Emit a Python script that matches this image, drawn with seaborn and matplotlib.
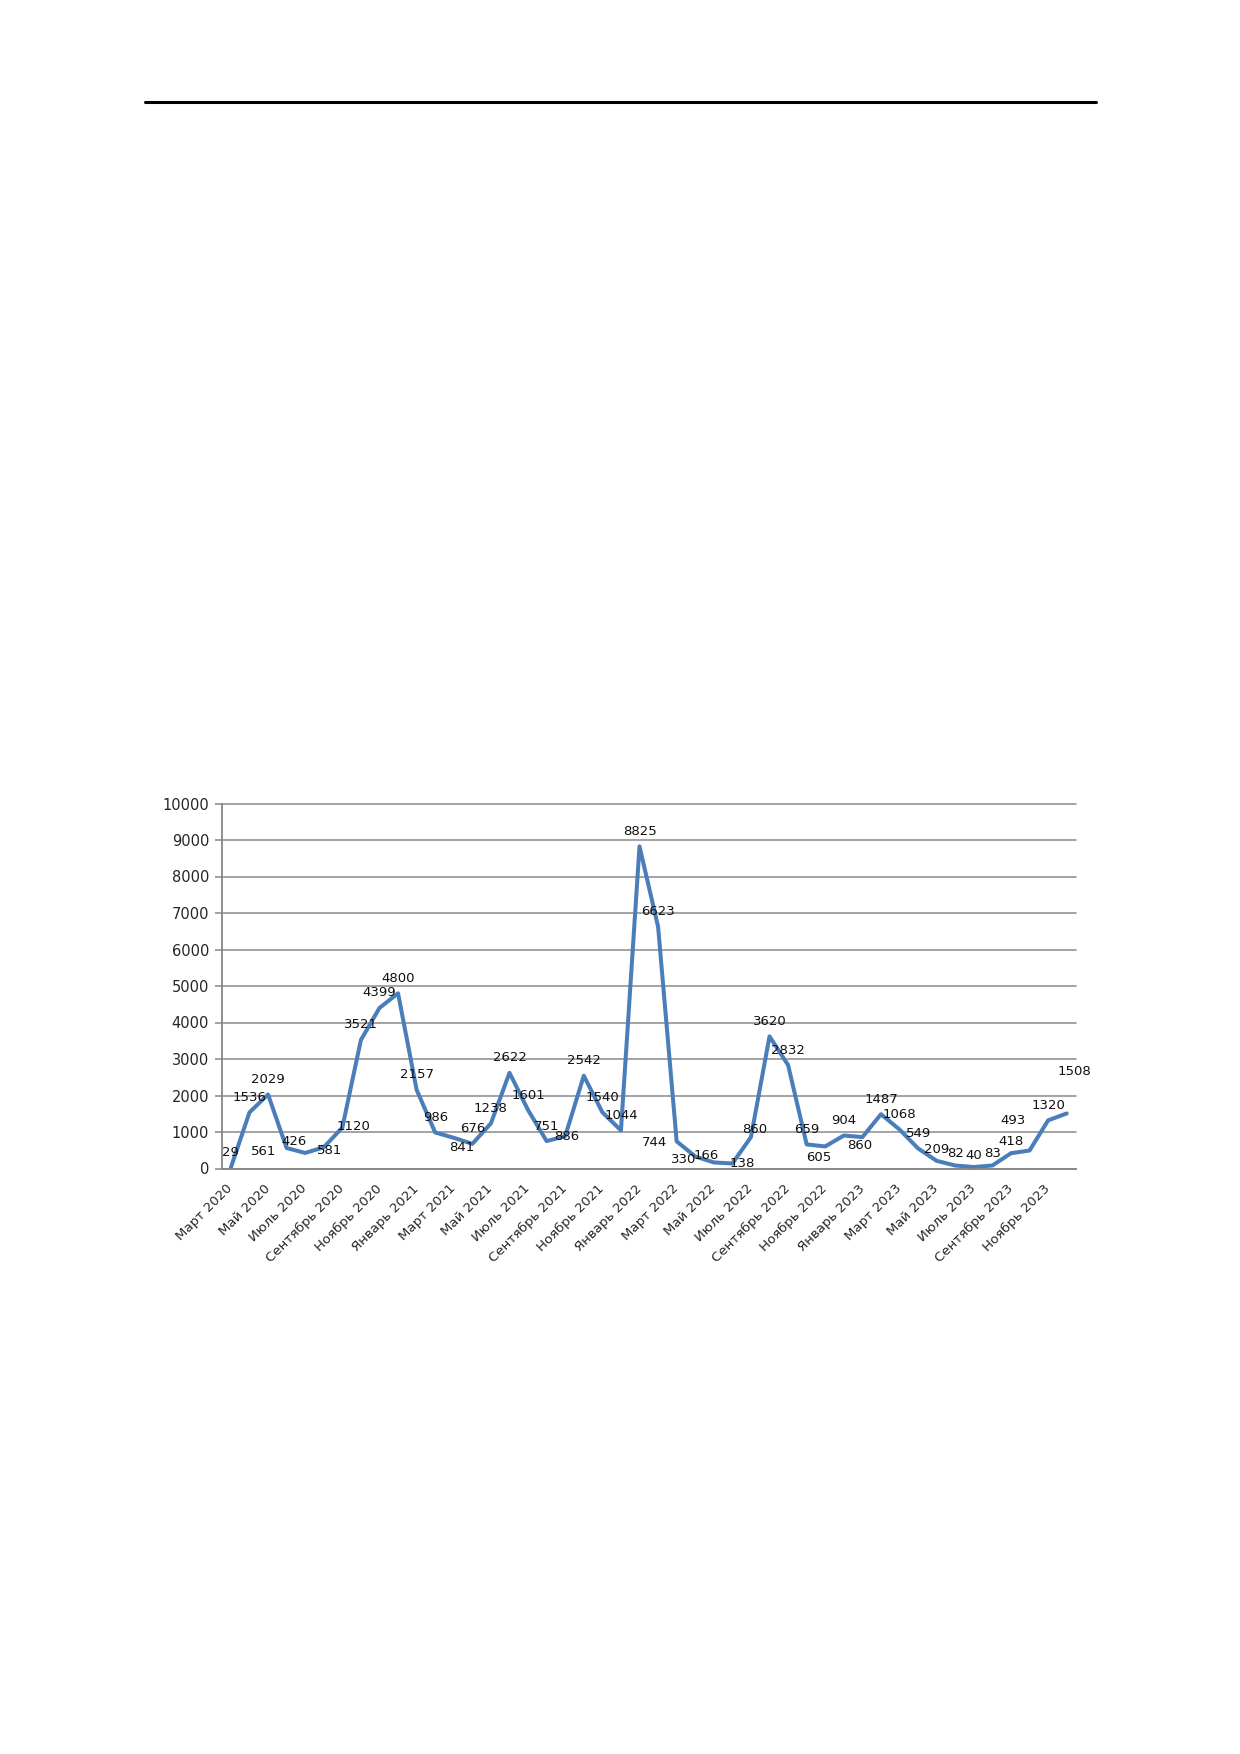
import matplotlib
matplotlib.use('Agg')
import numpy as np
import pandas as pd
import seaborn as sns
import matplotlib.pyplot as plt
from matplotlib.lines import Line2D
from matplotlib.ticker import MultipleLocator

# monthly values, March 2020 .. December 2023
months = [
    'Март 2020', 'Апрель 2020', 'Май 2020', 'Июнь 2020', 'Июль 2020', 'Август 2020',
    'Сентябрь 2020', 'Октябрь 2020', 'Ноябрь 2020', 'Декабрь 2020',
    'Январь 2021', 'Февраль 2021', 'Март 2021', 'Апрель 2021', 'Май 2021', 'Июнь 2021',
    'Июль 2021', 'Август 2021', 'Сентябрь 2021', 'Октябрь 2021', 'Ноябрь 2021', 'Декабрь 2021',
    'Январь 2022', 'Февраль 2022', 'Март 2022', 'Апрель 2022', 'Май 2022', 'Июнь 2022',
    'Июль 2022', 'Август 2022', 'Сентябрь 2022', 'Октябрь 2022', 'Ноябрь 2022', 'Декабрь 2022',
    'Январь 2023', 'Февраль 2023', 'Март 2023', 'Апрель 2023', 'Май 2023', 'Июнь 2023',
    'Июль 2023', 'Август 2023', 'Сентябрь 2023', 'Октябрь 2023', 'Ноябрь 2023', 'Декабрь 2023',
]
values = [
    29, 1536, 2029, 561, 426, 581, 1120, 3521, 4399, 4800,
    2157, 986, 841, 676, 1238, 2622, 1601, 751, 886, 2542, 1540, 1044,
    8825, 6623, 744, 330, 166, 138, 860, 3620, 2832, 659, 605, 904,
    860, 1487, 1068, 549, 209, 82, 40, 83, 418, 493, 1320, 1508,
]
tick_labels = [
    'Март 2020', 'Май 2020', 'Июль 2020', 'Сентябрь 2020', 'Ноябрь 2020',
    'Январь 2021', 'Март 2021', 'Май 2021', 'Июль 2021', 'Сентябрь 2021', 'Ноябрь 2021',
    'Январь 2022', 'Март 2022', 'Май 2022', 'Июль 2022', 'Сентябрь 2022', 'Ноябрь 2022',
    'Январь 2023', 'Март 2023', 'Май 2023', 'Июль 2023', 'Сентябрь 2023', 'Ноябрь 2023',
]

# label placement (pixels from the point); default is just above
default_offset = (0, 15)
label_offsets = {
    3: (-23, -3), 4: (-11, 11), 5: (6, -3), 6: (11, 1), 12: (8, -10),
    18: (1, 0), 24: (-22, -1), 25: (-12, -3), 26: (-8, 7), 27: (10, 0),
    28: (4, 8), 32: (-7, -11), 34: (-3, -8), 38: (0, 11), 39: (0, 12),
    40: (0, 12), 41: (0, 12), 42: (0, 12), 43: (-17, 30), 45: (8, 42),
}

sns.set_style('white')
plt.rcParams['font.family'] = ['DejaVu Sans']

df = pd.DataFrame({'month': months, 'value': values})
df['pos'] = np.arange(len(df))

fig = plt.figure(figsize=(12.4, 17.54), dpi=100)
ax = fig.add_axes([221.6 / 1240, 1 - 1168.5 / 1754, (1076 - 221.6) / 1240, 365 / 1754])

sns.lineplot(data=df, x='pos', y='value', ax=ax, color='#4a7ebb', linewidth=2.9)

for i, v in enumerate(values):
    dx, dy = label_offsets.get(i, default_offset)
    ax.annotate(str(v), (i, v), xytext=(dx, dy), textcoords='offset pixels',
                ha='center', va='center', fontsize=9.5, color='#111111')

ax.set_xlim(-0.5, len(values) - 0.5)
ax.set_ylim(0, 10000)
ax.yaxis.set_major_locator(MultipleLocator(1000))
ax.grid(axis='y', color='#8a8a8a', linewidth=1.1)
ax.set_axisbelow(True)
for gl in ax.get_ygridlines():
    gl.set_clip_on(False)

ax.set_xticks(df['pos'][::2], tick_labels, rotation=45, ha='right', va='center',
              rotation_mode='anchor')
ax.set_xticks(np.arange(-0.5, len(values), 1), minor=True)
ax.tick_params(axis='x', which='major', length=0, pad=13, labelsize=9.5)
ax.tick_params(axis='x', which='minor', length=5, color='#868686', width=1.1)
ax.tick_params(axis='y', length=5, color='#868686', width=1.1, pad=4, labelsize=10.5)
ax.tick_params(left=True)
ax.set_xlabel('')
ax.set_ylabel('')

for side in ['top', 'right']:
    ax.spines[side].set_visible(False)
for side in ['left', 'bottom']:
    ax.spines[side].set_color('#868686')
    ax.spines[side].set_linewidth(1.3)

# page header rule
fig.add_artist(Line2D([145 / 1240, 1096 / 1240], [1 - 102 / 1754, 1 - 102 / 1754],
                      color='black', linewidth=2.2))

fig.savefig('out.png', dpi=100)
